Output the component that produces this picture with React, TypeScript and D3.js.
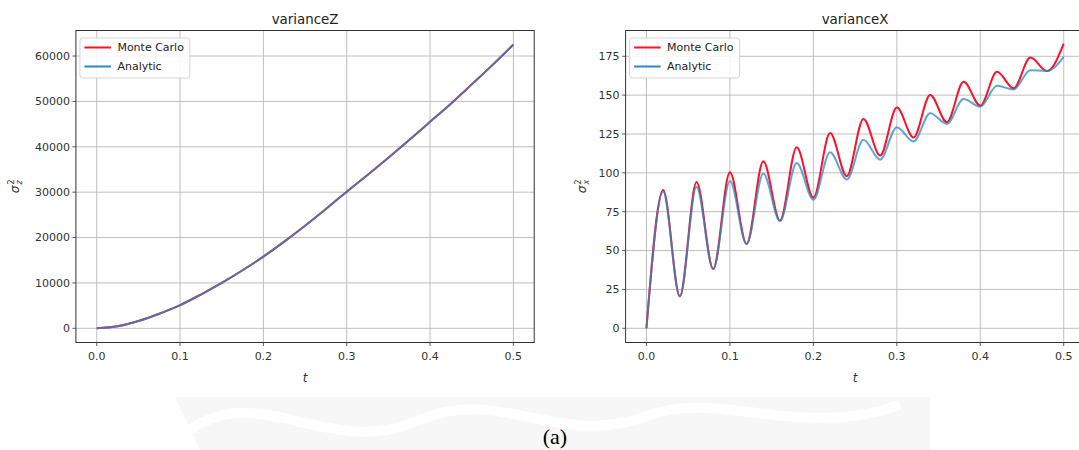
import React from "react";
import * as d3 from "d3";

// ---------- data ----------
const tZ = [0, 0.025, 0.05, 0.075, 0.1, 0.125, 0.15, 0.175, 0.2, 0.225, 0.25, 0.275, 0.3, 0.325, 0.35, 0.375, 0.4, 0.425, 0.45, 0.475, 0.5];
const varZMonteCarlo = [0, 450, 1600, 3200, 5100, 7450, 10000, 12800, 15800, 19100, 22600, 26300, 30100, 33800, 37600, 41500, 45500, 49500, 53750, 58050, 62550];
const varZAnalytic = [0, 450, 1600, 3200, 5100, 7450, 10000, 12800, 15800, 19100, 22600, 26300, 30100, 33800, 37600, 41500, 45500, 49500, 53700, 58000, 62500];

const tX = [0, 0.02, 0.04, 0.06, 0.08, 0.1, 0.12, 0.14, 0.16, 0.18, 0.2, 0.22, 0.24, 0.26, 0.28, 0.3, 0.32, 0.34, 0.36, 0.38, 0.4, 0.42, 0.44, 0.46, 0.48, 0.5];
const varXMonteCarlo = [0, 88.9, 20.7, 94.2, 38.1, 100.4, 54.3, 107.5, 69.3, 116.4, 84.0, 125.6, 97.9, 134.7, 111.1, 142.0, 122.8, 150.1, 132.6, 158.6, 143.3, 165.0, 154.4, 174.2, 165.5, 183.2];
const varXAnalytic = [0, 87.8, 20.5, 91.0, 38.0, 94.7, 54.2, 99.6, 69.0, 106.4, 82.7, 113.2, 95.7, 121.3, 108.5, 129.4, 120.2, 138.4, 131.5, 147.5, 142.6, 156.0, 153.7, 166.1, 165.5, 174.6];

const tTicks = [0, 0.1, 0.2, 0.3, 0.4, 0.5];
const zTicks = [0, 10000, 20000, 30000, 40000, 50000, 60000];
const xTicks = [0, 25, 50, 75, 100, 125, 150, 175];
const seriesNames = ["Monte Carlo", "Analytic"];
const titles = ["varianceZ", "varianceX"];

// ---------- layout ----------
const W = 1079;
const H = 450;
const TOP = 30.5;
const BOTTOM = 342.5;
const FONT = "DejaVu Sans, sans-serif";
const RED = "#ff1028";
const BLUE = "#2a88c8";
const GRID = "#b8b8b8";

type PanelProps = {
  x0: number;
  x1: number;
  title: string;
  t: number[];
  mc: number[];
  an: number[];
  yTicks: number[];
  yDomain: [number, number];
  sub: string;
  labelOffset: number;
};

function Panel({ x0, x1, title, t, mc, an, yTicks, yDomain, sub, labelOffset }: PanelProps) {
  const xs = d3.scaleLinear().domain([-0.025, 0.525]).range([x0, x1]);
  const ys = d3.scaleLinear().domain(yDomain).range([BOTTOM, TOP]);
  const line = (vals: number[]) =>
    d3
      .line<number>()
      .x((_, i) => xs(t[i]))
      .y((v) => ys(v))
      .curve(d3.curveMonotoneX)(vals) || "";
  const cx = (x0 + x1) / 2;
  const cy = (TOP + BOTTOM) / 2;
  const lx = x0 + 4;
  return (
    <g>
      <defs>
        <clipPath id={`clip-${title}`}>
          <rect x={x0} y={TOP} width={x1 - x0} height={BOTTOM - TOP} />
        </clipPath>
      </defs>
      {tTicks.map((v) => (
        <line key={"gx" + v} x1={xs(v)} x2={xs(v)} y1={TOP} y2={BOTTOM} stroke={GRID} strokeWidth={0.9} />
      ))}
      {yTicks.map((v) => (
        <line key={"gy" + v} x1={x0} x2={x1} y1={ys(v)} y2={ys(v)} stroke={GRID} strokeWidth={0.9} />
      ))}
      <g clipPath={`url(#clip-${title})`}>
        <path d={line(mc)} fill="none" stroke={RED} strokeWidth={2} strokeLinejoin="round" />
        <path d={line(an)} fill="none" stroke={BLUE} strokeWidth={2} strokeOpacity={0.75} strokeLinejoin="round" />
      </g>
      <rect x={x0} y={TOP} width={x1 - x0} height={BOTTOM - TOP} fill="none" stroke="#333" strokeWidth={1} />
      {tTicks.map((v) => (
        <g key={"tx" + v}>
          <line x1={xs(v)} x2={xs(v)} y1={BOTTOM} y2={BOTTOM + 3.5} stroke="#333" strokeWidth={0.8} />
          <text x={xs(v)} y={BOTTOM + 17} textAnchor="middle" fontFamily={FONT} fontSize={11} fill="#333">
            {d3.format(".1f")(v)}
          </text>
        </g>
      ))}
      {yTicks.map((v) => (
        <g key={"ty" + v}>
          <line x1={x0 - 3.5} x2={x0} y1={ys(v)} y2={ys(v)} stroke="#333" strokeWidth={0.8} />
          <text x={x0 - 6} y={ys(v)} dy="0.35em" textAnchor="end" fontFamily={FONT} fontSize={11} fill="#333">
            {v}
          </text>
        </g>
      ))}
      <text x={cx} y={24} textAnchor="middle" fontFamily={FONT} fontSize={13.4} fill="#222">
        {title}
      </text>
      <text x={cx} y={382} textAnchor="middle" fontFamily={FONT} fontStyle="italic" fontSize={12} fill="#333">
        t
      </text>
      <g transform={`translate(${x0 - labelOffset},${cy}) rotate(-90)`}>
        <text x={-3} y={4} textAnchor="middle" fontFamily={FONT} fontStyle="italic" fontSize={12} fill="#333">
          σ
        </text>
        <text x={2} y={7} fontFamily={FONT} fontStyle="italic" fontSize={8} fill="#333">
          {sub}
        </text>
        <text x={2} y={-1} fontFamily={FONT} fontSize={8} fill="#333">
          2
        </text>
      </g>
      <rect x={lx} y={TOP + 7.5} width={110} height={40} rx={3} fill="white" fillOpacity={0.85} stroke="#d4d4d4" strokeWidth={1} />
      {seriesNames.map((n, i) => (
        <g key={n}>
          <line x1={lx + 4.5} x2={lx + 31} y1={TOP + 17 + i * 19} y2={TOP + 17 + i * 19} stroke={i === 0 ? RED : BLUE} strokeWidth={2} />
          <text x={lx + 37.5} y={TOP + 17 + i * 19} dy="0.35em" fontFamily={FONT} fontSize={11} fill="#222">
            {n}
          </text>
        </g>
      ))}
    </g>
  );
}

export default function App() {
  return (
    <svg width={W} height={H} style={{ display: "block", position: "absolute", left: 0, top: 0 }}>
      <rect x={0} y={0} width={W} height={H} fill="white" />
      <path d="M175,397 L930,397 L930,450 L200,450 Z" fill="#f7f7f7" />
      <path d="M190,430 C260,380 330,460 420,420 C500,385 560,450 650,415 C720,390 800,440 900,405" fill="none" stroke="white" strokeWidth={10} />
      <Panel x0={75.9} x1={534.2} title={titles[0]} t={tZ} mc={varZMonteCarlo} an={varZAnalytic} yTicks={zTicks} yDomain={[-3125, 65625]} sub="z" labelOffset={61} />
      <Panel x0={625.6} x1={1084.6} title={titles[1]} t={tX} mc={varXMonteCarlo} an={varXAnalytic} yTicks={xTicks} yDomain={[-9.15, 191.6]} sub="x" labelOffset={44} />
      <text x={555} y={444} textAnchor="middle" fontFamily="Liberation Serif, serif" fontSize={22} fill="#000">
        (a)
      </text>
    </svg>
  );
}
